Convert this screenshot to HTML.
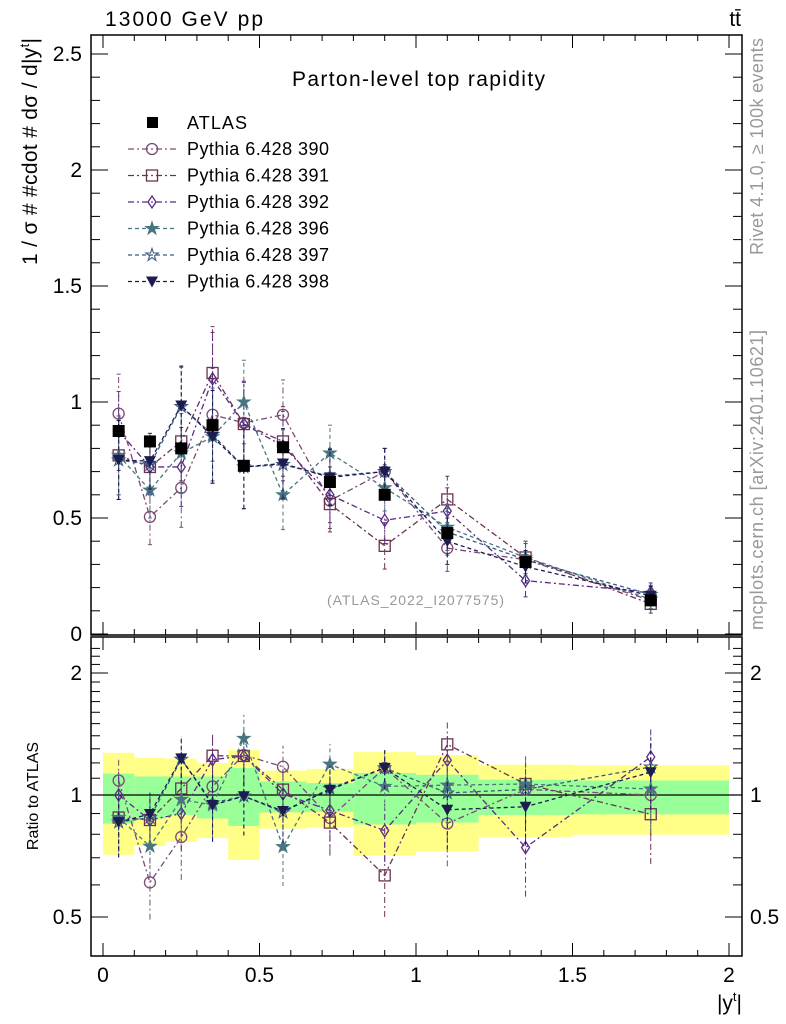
<!DOCTYPE html>
<html><head><meta charset="utf-8"><style>
body{margin:0;background:#fff;}
svg{display:block;font-family:"Liberation Sans",sans-serif;}
</style></head><body>
<svg id="c" width="786" height="1024" viewBox="0 0 786 1024"></svg>
<script>
const xs=[0.05,0.15,0.25,0.35,0.45,0.575,0.725,0.9,1.1,1.35,1.75];
const binEdges=[0,0.1,0.2,0.3,0.4,0.5,0.65,0.8,1.0,1.2,1.5,2.0];
const atlas=[0.875,0.83,0.80,0.90,0.725,0.805,0.655,0.60,0.435,0.31,0.145];
const yelHi=[1.271,1.235,1.230,1.200,1.291,1.149,1.160,1.276,1.254,1.188,1.184];
const grnHi=[1.129,1.111,1.111,1.111,1.166,1.080,1.070,1.133,1.122,1.091,1.086];
const grnLo=[0.850,0.875,0.893,0.875,0.839,0.906,0.909,0.846,0.855,0.893,0.896];
const yelLo=[0.712,0.748,0.766,0.783,0.692,0.826,0.834,0.709,0.726,0.788,0.798];
const s390=[0.95,0.505,0.63,0.945,0.91,0.945,0.575,0.70,0.37,0.32,0.145];
const s391=[0.77,0.72,0.83,1.125,0.905,0.83,0.56,0.38,0.58,0.33,0.13];
const s392=[0.875,0.72,0.72,1.10,0.905,0.81,0.60,0.49,0.53,0.23,0.18];
const s396=[0.77,0.62,0.78,0.85,1.0,0.60,0.78,0.63,0.46,0.33,0.15];
const s397=[0.75,0.73,0.98,0.86,0.72,0.73,0.68,0.70,0.44,0.32,0.17];
const s398=[0.75,0.745,0.985,0.85,0.72,0.735,0.675,0.70,0.40,0.29,0.165];
const mcErr=[0.17,0.12,0.17,0.2,0.18,0.15,0.12,0.1,0.1,0.07,0.04];
const atlasErr=[0.03,0.03,0.03,0.03,0.03,0.03,0.02,0.02,0.02,0.015,0.01];
const yTicks=[0,0.5,1,1.5,2,2.5];
const rTicks=[0.5,1,2];
const xTicks=[0,0.5,1,1.5,2];

const NS="http://www.w3.org/2000/svg";
const svg=document.getElementById('c');
function el(t,a,p){const e=document.createElementNS(NS,t);for(const k in a)e.setAttribute(k,a[k]);(p||svg).appendChild(e);return e;}
const L=91,R=742,T=35,MID=635,B=956;
const X=v=>103+v*313;
const Y=v=>634-v*232;
const YR=r=>795-122*Math.log2(r);

for(let i=0;i<xs.length;i++){
  const x0=X(binEdges[i]),x1=X(binEdges[i+1]);
  const y=el('rect',{x:x0,y:YR(yelHi[i]),width:x1-x0,height:YR(yelLo[i])-YR(yelHi[i]),fill:'#ffff88'});
  
  
  const g=el('rect',{x:x0,y:YR(grnHi[i]),width:x1-x0,height:YR(grnLo[i])-YR(grnHi[i]),fill:'#99ff99'});
  
  
}
el('line',{x1:L,x2:R,y1:YR(1),y2:YR(1),stroke:'#000','stroke-width':1.3});

el('rect',{x:L,y:T,width:R-L,height:MID-T,fill:'none',stroke:'#000','stroke-width':1.5});
el('rect',{x:L,y:MID+2,width:R-L,height:B-MID-2,fill:'none',stroke:'#000','stroke-width':1.5});

for(let v=0;v<=2.0001;v+=0.1){
  const big=Math.abs(v*2-Math.round(v*2))<1e-6;const len=big?13:6;
  for(const [yb,yt] of [[MID,T],[B,MID+2]]){
    el('line',{x1:X(v),x2:X(v),y1:yb,y2:yb-len,stroke:'#000','stroke-width':1});
    el('line',{x1:X(v),x2:X(v),y1:yt,y2:yt+len,stroke:'#000','stroke-width':1});
  }
}
xTicks.forEach(v=>{const t=el('text',{x:X(v),y:982,'font-size':21,'text-anchor':'middle'});t.textContent=String(v);

});
for(let v=0;v<=2.56;v+=0.1){
  const big=Math.abs(v*2-Math.round(v*2))<1e-6;const len=big?17:9;
  el('line',{x1:L,x2:L+len,y1:Y(v),y2:Y(v),stroke:'#000'});
  el('line',{x1:R,x2:R-len,y1:Y(v),y2:Y(v),stroke:'#000'});
}
yTicks.forEach(v=>{const t=el('text',{x:82,y:Y(v)+7,'font-size':21,'text-anchor':'end'});t.textContent=String(v);

});
for(let r=0.5;r<=2.4;r+=0.1){
  const big=[0.5,1,2].some(q=>Math.abs(q-r)<1e-6);const len=big?17:9;
  el('line',{x1:L,x2:L+len,y1:YR(r),y2:YR(r),stroke:'#000'});
  el('line',{x1:R,x2:R-len,y1:YR(r),y2:YR(r),stroke:'#000'});
}
rTicks.forEach(v=>{for(const [x,a] of [[82,'end'],[750,'start']]){const t=el('text',{x:x,y:YR(v)+7,'font-size':21,'text-anchor':a});t.textContent=String(v);

}});

function marker(kind,x,y,c,g){
  const s=6;
  if(kind==='sq')el('rect',{x:x-s,y:y-s,width:2*s,height:2*s,fill:'#000'},g);
  else if(kind==='circ')el('circle',{cx:x,cy:y,r:5.5,fill:'#fff','fill-opacity':0,stroke:c,'stroke-width':1.3},g);
  else if(kind==='osq')el('rect',{x:x-5.5,y:y-5.5,width:11,height:11,fill:'none',stroke:c,'stroke-width':1.3},g);
  else if(kind==='dia')el('polygon',{points:`${x},${y-6} ${x+4},${y} ${x},${y+6} ${x-4},${y}`,fill:'none',stroke:c,'stroke-width':1.3},g);
  else if(kind==='star'||kind==='ostar'){let p=[];for(let k=0;k<10;k++){const r=k%2?2.5:6.5,a=-Math.PI/2+k*Math.PI/5;p.push((x+r*Math.cos(a)).toFixed(1)+','+(y+r*Math.sin(a)).toFixed(1));}
    el('polygon',{points:p.join(' '),fill:kind==='star'?c:'none',stroke:c,'stroke-width':1.1},g);}
  else if(kind==='tri')el('polygon',{points:`${x-6},${y-5} ${x+6},${y-5} ${x},${y+6}`,fill:c},g);
}
const series=[
 {n:'390',d:s390,c:'#7b4a75',m:'circ',dash:'6,3,2,3'},
 {n:'391',d:s391,c:'#6a3450',m:'osq',dash:'6,3,2,3'},
 {n:'392',d:s392,c:'#5b2a85',m:'dia',dash:'6,3,2,3'},
 {n:'396',d:s396,c:'#4a7580',m:'star',dash:'4,3'},
 {n:'397',d:s397,c:'#3a5a80',m:'ostar',dash:'4,3'},
 {n:'398',d:s398,c:'#1c1c50',m:'tri',dash:'4,3'}];
series.forEach(s=>{
  const g=el('g',{});
  
  
  const pts=xs.map((x,i)=>X(x)+','+Y(s.d[i])).join(' ');
  el('polyline',{points:pts,fill:'none',stroke:s.c,'stroke-width':1.3,'stroke-dasharray':s.dash},g);
  const rp=xs.map((x,i)=>X(x)+','+YR(s.d[i]/atlas[i])).join(' ');
  el('polyline',{points:rp,fill:'none',stroke:s.c,'stroke-width':1.3,'stroke-dasharray':s.dash},g);
  xs.forEach((x,i)=>{
    const v=s.d[i],e=mcErr[i];
    el('line',{x1:X(x),x2:X(x),y1:Y(v-e),y2:Y(v+e),stroke:s.c,'stroke-dasharray':s.dash},g);
    el('line',{x1:X(x)-2,x2:X(x)+2,y1:Y(v+e),y2:Y(v+e),stroke:s.c},g);
    el('line',{x1:X(x)-2,x2:X(x)+2,y1:Y(v-e),y2:Y(v-e),stroke:s.c},g);
    const r=v/atlas[i],re=0.8*e/atlas[i];
    el('line',{x1:X(x),x2:X(x),y1:YR(Math.max(r-re,0.42)),y2:YR(r+re),stroke:s.c,'stroke-dasharray':s.dash},g);
    marker(s.m,X(x),Y(v),s.c,g);
    marker(s.m,X(x),YR(r),s.c,g);
  });
});
const ga=el('g',{});


xs.forEach((x,i)=>{el('line',{x1:X(x),x2:X(x),y1:Y(atlas[i]-atlasErr[i]),y2:Y(atlas[i]+atlasErr[i]),stroke:'#000'},ga);marker('sq',X(x),Y(atlas[i]),'#000',ga);});

const lg=el('g',{});


el('rect',{x:147,y:117,width:11,height:11,fill:'#000'},lg);
let t=el('text',{x:187,y:129,'font-size':18,textLength:60},lg);t.textContent='ATLAS';
series.forEach((s,k)=>{const y=149+k*26.5;
  el('line',{x1:128,x2:176,y1:y,y2:y,stroke:s.c,'stroke-width':1.2,'stroke-dasharray':s.dash},lg);
  marker(s.m,152,y,s.c,lg);
  const tt=el('text',{x:187,y:y+6,'font-size':18,textLength:142},lg);tt.textContent='Pythia 6.428 '+s.n;
  
  
});
</script>
<svg style="position:absolute;left:0;top:0" width="786" height="1024">
<text x="105" y="26" font-size="21" textLength="158" font-family="Liberation Sans,sans-serif">13000 GeV pp</text>
<text x="741" y="26" font-size="21" text-anchor="end" font-family="Liberation Sans,sans-serif">tt̄</text>
<text x="292" y="86" font-size="21" textLength="253" font-family="Liberation Sans,sans-serif">Parton-level top rapidity</text>
<text x="327" y="605" font-size="14" fill="#999" textLength="177" font-family="Liberation Sans,sans-serif">(ATLAS_2022_I2077575)</text>
<text transform="translate(37,265) rotate(-90)" font-size="21" textLength="227" font-family="Liberation Sans,sans-serif">1 / σ # #cdot # dσ / d|y<tspan font-size="13" dy="-8">t</tspan><tspan dy="8">|</tspan></text>
<text transform="translate(38,796) rotate(-90)" font-size="16" text-anchor="middle" font-family="Liberation Sans,sans-serif">Ratio to ATLAS</text>
<text x="742" y="1010" font-size="21" text-anchor="end" font-family="Liberation Sans,sans-serif">|y<tspan font-size="13" dy="-9">t</tspan><tspan dy="9">|</tspan></text>
<text transform="translate(763,255) rotate(-90)" font-size="18" fill="#999" textLength="217" font-family="Liberation Sans,sans-serif">Rivet 4.1.0, ≥ 100k events</text>
<text transform="translate(763,630) rotate(-90)" font-size="18" fill="#999" textLength="300" font-family="Liberation Sans,sans-serif">mcplots.cern.ch [arXiv:2401.10621]</text>
</svg>
</body></html>
